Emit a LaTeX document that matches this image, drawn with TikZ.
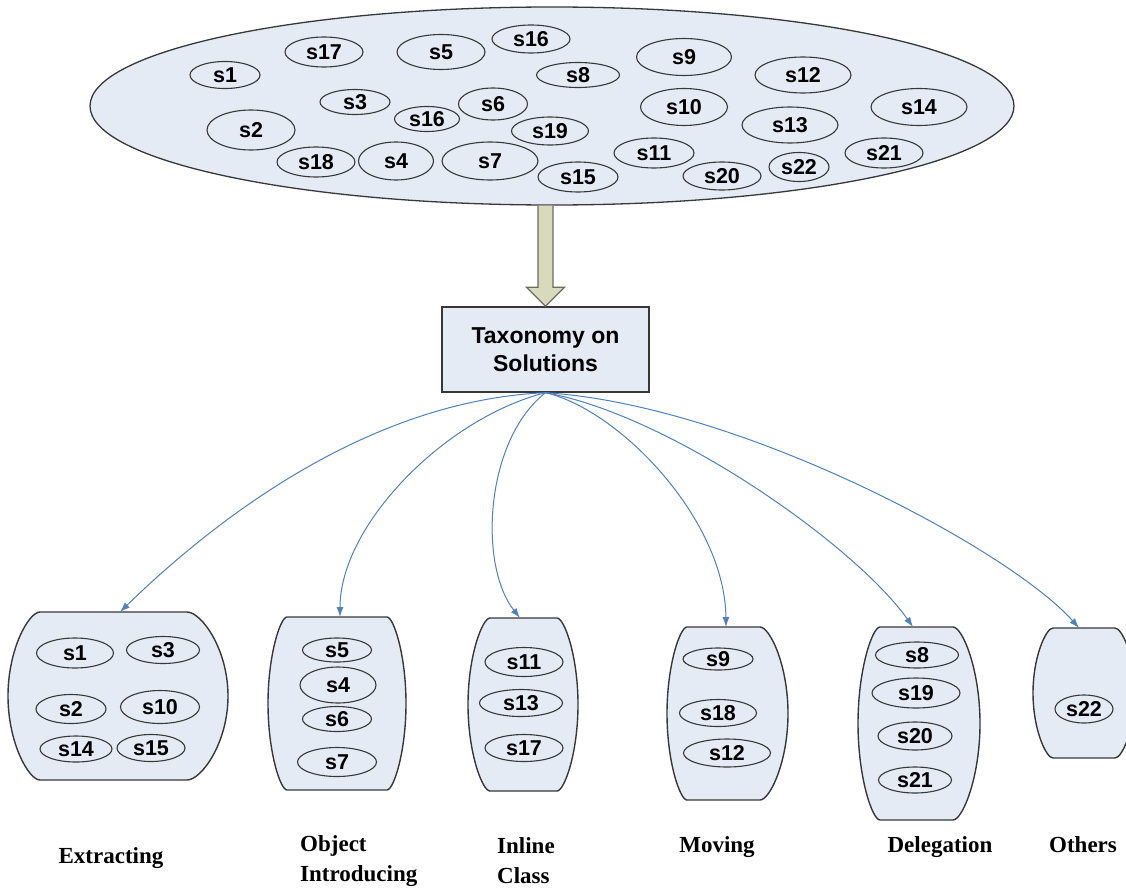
\documentclass[tikz,border=0pt]{standalone}
\usepackage{fontspec}
\setmainfont{Liberation Serif}
\setsansfont{Liberation Sans}
\usetikzlibrary{shapes.geometric,arrows.meta,calc}
\definecolor{solfill}{HTML}{E5EBF5}
\definecolor{edgecol}{HTML}{383838}
\definecolor{conncol}{HTML}{4F81BD}
\definecolor{hollowfill}{HTML}{D8DABE}
\definecolor{hollowedge}{HTML}{6E6E5E}
\tikzset{
  sol/.style 2 args={ellipse, draw=edgecol, fill=solfill, line width=1.1pt, inner sep=0pt,
    minimum width=#1pt, minimum height=#2pt, font=\sffamily\bfseries\fontsize{21.5}{24}\selectfont},
  pool/.style={ellipse, draw=edgecol, fill=solfill, line width=1.3pt, inner sep=0pt},
  barrel/.style={draw=edgecol, fill=solfill, line width=1.4pt},
  taxbox/.style={rectangle, draw=edgecol, fill=solfill, line width=1.4pt, inner sep=0pt,
    minimum width=207pt, minimum height=85pt, align=center,
    font=\sffamily\bfseries\fontsize{23}{28}\selectfont},
  hollow/.style={draw=hollowedge, fill=hollowfill, line width=1.2pt, line join=miter},
  conn/.style={draw=conncol, line width=1pt, -{Latex[length=10pt,width=7pt]}},
  lbl/.style={inner sep=0pt, font=\rmfamily\bfseries\fontsize{23}{30}\selectfont},
}
% name, xl, xr, xmin, xmax, top, bot, tip x
\newcommand{\barrelpath}[8]{%
  \draw[barrel] (#2,#6) -- (#3,#6)
    .. controls ({#3+0.35*(#5-#3)},#6) and (#5,{#6+0.22*(#7-#6)}) .. (#5,{(#6+#7)/2})
    .. controls (#5,{#7-0.22*(#7-#6)}) and ({#3+0.35*(#5-#3)},#7) .. (#3,#7)
    -- (#2,#7)
    .. controls ({#2-0.35*(#2-#4)},#7) and (#4,{#7-0.22*(#7-#6)}) .. (#4,{(#6+#7)/2})
    .. controls (#4,{#6+0.22*(#7-#6)}) and ({#2-0.35*(#2-#4)},#6) .. (#2,#6) -- cycle;
  \coordinate (#1) at (#8,#6);
}
\begin{document}
\begin{tikzpicture}[x=1pt,y=-1pt]
\clip (0,0) rectangle (1126,888);
\fill[white] (0,0) rectangle (1126,888);

% pool of solutions
\node[pool, minimum width=924pt, minimum height=198pt] (pool) at (552,106) {};
\node[sol={70}{27}] (p1) at (225,75) {s1};
\node[sol={78}{30}] (p17) at (324,52) {s17};
\node[sol={88}{35}] (p5) at (441,52) {s5};
\node[sol={78}{28}] (p16a) at (531,39) {s16};
\node[sol={83}{25}] (p8) at (578,75) {s8};
\node[sol={70}{25}] (p3) at (355,102) {s3};
\node[sol={65}{25}] (p16b) at (427,119) {s16};
\node[sol={69}{32}] (p6) at (493,104) {s6};
\node[sol={77}{28}] (p19) at (550,131) {s19};
\node[sol={88}{40}] (p2) at (251,130) {s2};
\node[sol={78}{30}] (p18) at (316,162) {s18};
\node[sol={75}{38}] (p4) at (396,161) {s4};
\node[sol={96}{38}] (p7) at (490,161) {s7};
\node[sol={80}{30}] (p15) at (578,177) {s15};
\node[sol={95}{37}] (p9) at (684,57) {s9};
\node[sol={96}{36}] (p12) at (803,75) {s12};
\node[sol={87}{37}] (p10) at (684,107) {s10};
\node[sol={96}{36}] (p13) at (790,125) {s13};
\node[sol={96}{37}] (p14) at (919,107) {s14};
\node[sol={80}{30}] (p11) at (654,153) {s11};
\node[sol={78}{28}] (p20) at (722,176) {s20};
\node[sol={60}{29}] (p22) at (799,167) {s22};
\node[sol={78}{30}] (p21) at (884,153) {s21};

% taxonomy box
\node[taxbox] (tax) at (545.5,349.5) {Taxonomy on\\Solutions};

% hollow arrow
\draw[hollow] ($(pool.south -| tax.north)+(-7.5,0)$) -- ($(tax.north)+(-7.5,-19)$)
  -- ($(tax.north)+(-19,-19)$) -- (tax.north) -- ($(tax.north)+(19,-19)$)
  -- ($(tax.north)+(7.5,-19)$) -- ($(pool.south -| tax.north)+(7.5,0)$);

% groups
\barrelpath{gext}{40}{187}{8}{228}{612}{780}{120}
\barrelpath{gobj}{287}{387}{268}{406}{617}{790}{340}
\barrelpath{ginl}{490}{557}{468}{578}{618}{791}{520}
\barrelpath{gmov}{687}{760}{667}{788}{627}{800}{726}
\barrelpath{gdel}{880}{953}{858}{980}{627}{820}{913}
\barrelpath{goth}{1053}{1115}{1033}{1135}{628}{758}{1079}

% group members
\node[sol={77}{30}] (e1) at (75,653) {s1};
\node[sol={73}{27}] (e3) at (163,650) {s3};
\node[sol={70}{29}] (e2) at (71,709) {s2};
\node[sol={79}{33}] (e10) at (160,707) {s10};
\node[sol={72}{26}] (e14) at (76,749) {s14};
\node[sol={68}{27}] (e15) at (151,748) {s15};

\node[sol={69}{24}] (o5) at (337,650) {s5};
\node[sol={76}{36}] (o4) at (338,685) {s4};
\node[sol={69}{25}] (o6) at (337,719) {s6};
\node[sol={79}{29}] (o7) at (337,762) {s7};

\node[sol={78}{29}] (i11) at (524,662) {s11};
\node[sol={83}{27}] (i13) at (521,703) {s13};
\node[sol={78}{27}] (i17) at (524,748) {s17};

\node[sol={70}{22}] (m9) at (718,659) {s9};
\node[sol={77}{27}] (m18) at (718,713) {s18};
\node[sol={87}{28}] (m12) at (727,753) {s12};

\node[sol={83}{26}] (d8) at (917,655) {s8};
\node[sol={88}{30}] (d19) at (916,693) {s19};
\node[sol={74}{28}] (d20) at (915,736) {s20};
\node[sol={73}{26}] (d21) at (915,780) {s21};

\node[sol={58}{28}] (x22) at (1084,709) {s22};

% connectors
\draw[conn] (tax.south) .. controls (380,400) and (230,505) .. (gext);
\draw[conn] (tax.south) .. controls (445,418) and (340,525) .. (gobj);
\draw[conn] (tax.south) .. controls (485,440) and (478,565) .. (ginl);
\draw[conn] (tax.south) .. controls (620,410) and (725,520) .. (gmov);
\draw[conn] (tax.south) .. controls (670,415) and (855,545) .. (gdel);
\draw[conn] (tax.south) .. controls (740,405) and (1010,550) .. (goth);

% labels
\node[lbl, anchor=base] (lext) at (111,863) {Extracting};
\node[lbl, anchor=base west, align=left] (lobj) at (300,881) {Object\\Introducing};
\node[lbl, anchor=base west, align=left] (linl) at (497,883) {Inline\\Class};
\node[lbl, anchor=base] (lmov) at (717,852) {Moving};
\node[lbl, anchor=base] (ldel) at (940,852) {Delegation};
\node[lbl, anchor=base] (loth) at (1083,852) {Others};
\end{tikzpicture}
\end{document}
